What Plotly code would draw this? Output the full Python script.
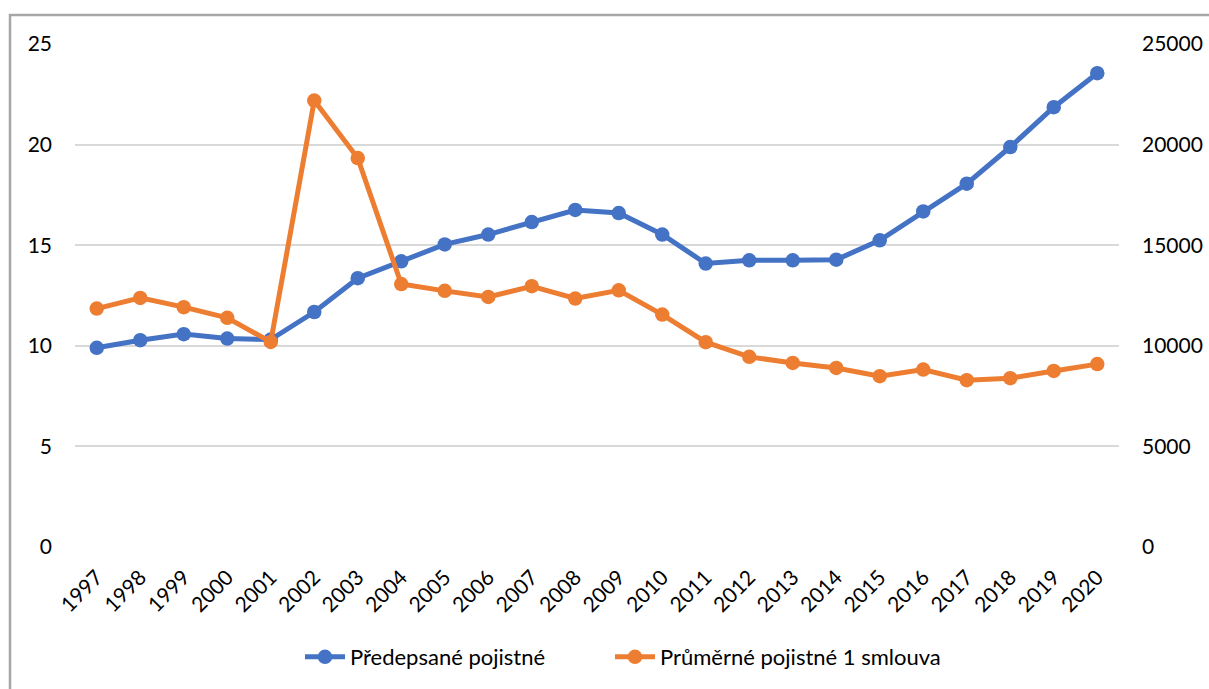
import plotly.graph_objects as go

years = [str(y) for y in range(1997, 2021)]
predepsane = [9.90, 10.28, 10.58, 10.36, 10.31, 11.68, 13.36, 14.20, 15.04, 15.53, 16.15, 16.75,
              16.60, 15.53, 14.09, 14.25, 14.25, 14.28, 15.24, 16.68, 18.06, 19.88, 21.86, 23.55]
prumerne = [11850, 12380, 11920, 11390, 10190, 22190, 19330, 13070, 12730, 12430, 12960, 12350,
            12760, 11550, 10180, 9450, 9150, 8900, 8490, 8820, 8290, 8390, 8750, 9090]
name_blue = "Předepsané pojistné"
name_orange = "Průměrné pojistné 1 smlouva"
left_ticks = [0, 5, 10, 15, 20, 25]
right_ticks = [0, 5000, 10000, 15000, 20000, 25000]

BLUE = "#4472C4"
ORANGE = "#ED7D31"
FONT = "Lato"
FS = 21

fig = go.Figure()
fig.add_trace(go.Scatter(x=years, y=predepsane, name=name_blue, mode="lines+markers",
                         line=dict(color=BLUE, width=5), marker=dict(size=14.5, color=BLUE),
                         yaxis="y", legend="legend"))
fig.add_trace(go.Scatter(x=years, y=prumerne, name=name_orange, mode="lines+markers",
                         line=dict(color=ORANGE, width=5), marker=dict(size=14.5, color=ORANGE),
                         yaxis="y2", legend="legend2"))

W, H = 1209, 689
L, R, T, B = 75, 90, 44, 142
pw, ph = W - L - R, H - T - B

leg_common = dict(orientation="h", xref="container", yref="container", xanchor="left",
                  y=1 - 657 / H, yanchor="middle",
                  font=dict(family=FONT, size=22, color="#000000"), itemwidth=40,
                  bgcolor="rgba(0,0,0,0)")

fig.update_layout(
    width=W, height=H,
    margin=dict(l=L, r=R, t=T, b=B, pad=0, autoexpand=False),
    paper_bgcolor="white", plot_bgcolor="white",
    font=dict(family=FONT, size=FS, color="#000000"),
    showlegend=True,
    legend=dict(x=300 / W, **leg_common),
    legend2=dict(x=610 / W, **leg_common),
    xaxis=dict(type="category", range=[-0.5, 23.5], tickangle=-45, showgrid=False,
               showline=False, zeroline=False, ticks="", ticklabelstandoff=13, automargin=False,
               tickfont=dict(family=FONT, size=FS, color="#000000")),
    yaxis=dict(range=[0, 25], tickvals=left_ticks, ticktext=[str(v) for v in left_ticks],
               showgrid=True, gridcolor="#D9D9D9", automargin=False,
               gridwidth=1.5, zeroline=False, showline=False, ticks="", ticklabelstandoff=22,
               tickfont=dict(family=FONT, size=FS, color="#000000")),
    yaxis2=dict(range=[0, 25000], tickvals=right_ticks, ticktext=[str(v) for v in right_ticks],
                overlaying="y", side="right", automargin=False,
                showgrid=False, zeroline=False, showline=False, ticks="", ticklabelstandoff=22,
                tickfont=dict(family=FONT, size=FS, color="#000000")),
    shapes=[dict(type="rect", xref="paper", yref="paper",
                 x0=(10 - L) / pw, x1=(W + 20 - L) / pw,
                 y0=-(H + 20 - (H - B)) / ph, y1=(H - B - 15) / ph,
                 line=dict(color="#A6A6A6", width=2.5), fillcolor="rgba(0,0,0,0)", layer="below")],
)

fig.write_html("out.html", config={"displayModeBar": False},
               post_script="document.body.style.margin='0';document.body.style.overflow='hidden';")
